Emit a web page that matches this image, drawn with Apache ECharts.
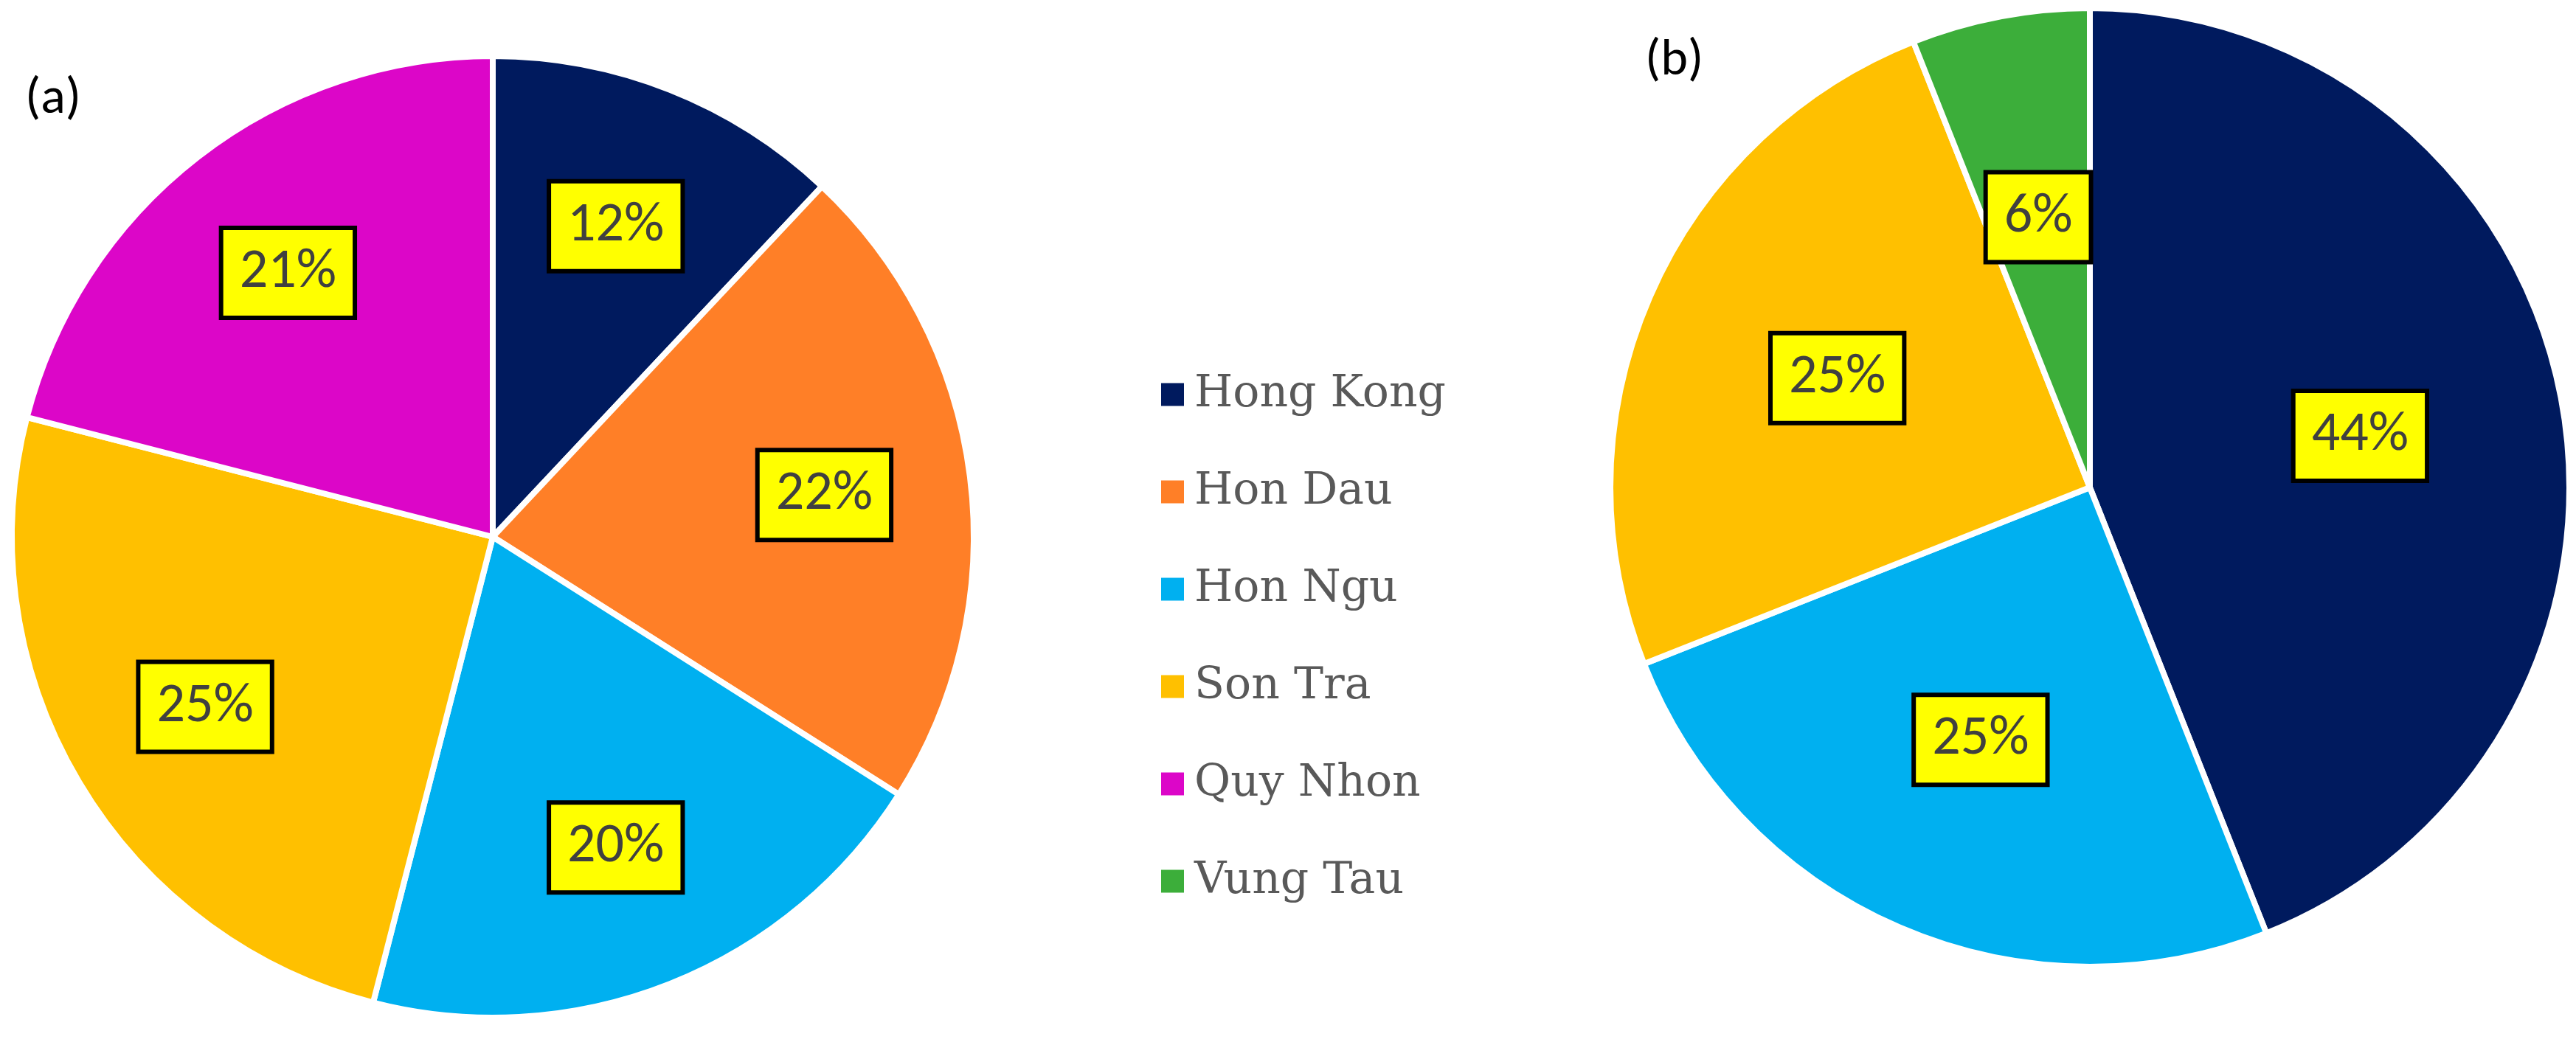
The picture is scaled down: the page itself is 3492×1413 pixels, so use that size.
<!DOCTYPE html>
<html><head><meta charset="utf-8">
<script src="https://cdn.jsdelivr.net/npm/echarts@6/dist/echarts.min.js"></script>
<style>html,body{margin:0;padding:0;background:#fff}#c{width:3492px;height:1413px}</style>
</head><body><div id="c"></div>
<script>
var names = ['Hong Kong', 'Hon Dau', 'Hon Ngu', 'Son Tra', 'Quy Nhon', 'Vung Tau'];
var colors = ['#001a5e', '#ff7f27', '#00b0f0', '#ffc000', '#dc06c8', '#3cae3a'];
var dataA = [12, 22, 20, 25, 21];
var namesA = ['Hong Kong', 'Hon Dau', 'Hon Ngu', 'Son Tra', 'Quy Nhon'];
var dataB = [44, 25, 25, 6];
var namesB = ['Hong Kong', 'Hon Ngu', 'Son Tra', 'Vung Tau'];

function items(vals, nms) {
  return vals.map(function (v, i) {
    return { name: nms[i], value: v, itemStyle: { color: colors[names.indexOf(nms[i])] } };
  });
}
function ghost(vals, nms) {
  return vals.map(function (v, i) {
    return { name: nms[i], value: v };
  });
}
var boxLabel = {
  show: true, position: 'inside', formatter: '{c}%',
  fontFamily: 'Carlito, Calibri, "Open Sans", sans-serif', fontSize: 76, color: '#404040',
  backgroundColor: '#ffff00', borderColor: '#000', borderWidth: 6,
  padding: [22, 22, 18, 22]
};
function pieMain(center, r, vals, nms) {
  return {
    type: 'pie', center: center, radius: [0, r], startAngle: 90, clockwise: true,
    silent: true, label: { show: false }, labelLine: { show: false },
    itemStyle: { borderColor: '#fff', borderWidth: 8 },
    data: items(vals, nms)
  };
}
function pieLabels(center, r, vals, nms) {
  return {
    type: 'pie', center: center, radius: [0, r], startAngle: 90, clockwise: true,
    silent: true, legendHoverLink: false, z: 5,
    itemStyle: { color: 'rgba(0,0,0,0)' }, labelLine: { show: false },
    label: boxLabel, data: ghost(vals, nms)
  };
}
var chart = echarts.init(document.getElementById('c'));
chart.setOption({
  animation: false,
  color: colors,
  graphic: [
    { type: 'text', left: 34, top: 100, style: { text: '(a)', fontSize: 70, fill: '#000', fontFamily: 'Carlito, Calibri, "Open Sans", sans-serif' } },
    { type: 'text', left: 2230, top: 48, style: { text: '(b)', fontSize: 70, fill: '#000', fontFamily: 'Carlito, Calibri, "Open Sans", sans-serif' } }
  ],
  legend: {
    orient: 'vertical', left: 1567, top: 500, data: names,
    icon: 'rect', itemWidth: 33, itemHeight: 33, itemGap: 72,
    textStyle: { fontFamily: '"DejaVu Serif", "Liberation Serif", serif', fontSize: 60, color: '#595959', padding: [0, 0, 0, 8] },
    selectedMode: false
  },
  series: [
    pieMain([668, 728], 652, dataA, namesA),
    pieLabels([668, 728], 900, dataA, namesA),
    pieMain([2833, 661], 650, dataB, namesB),
    pieLabels([2833, 661], 740, dataB, namesB)
  ]
});
</script></body></html>
